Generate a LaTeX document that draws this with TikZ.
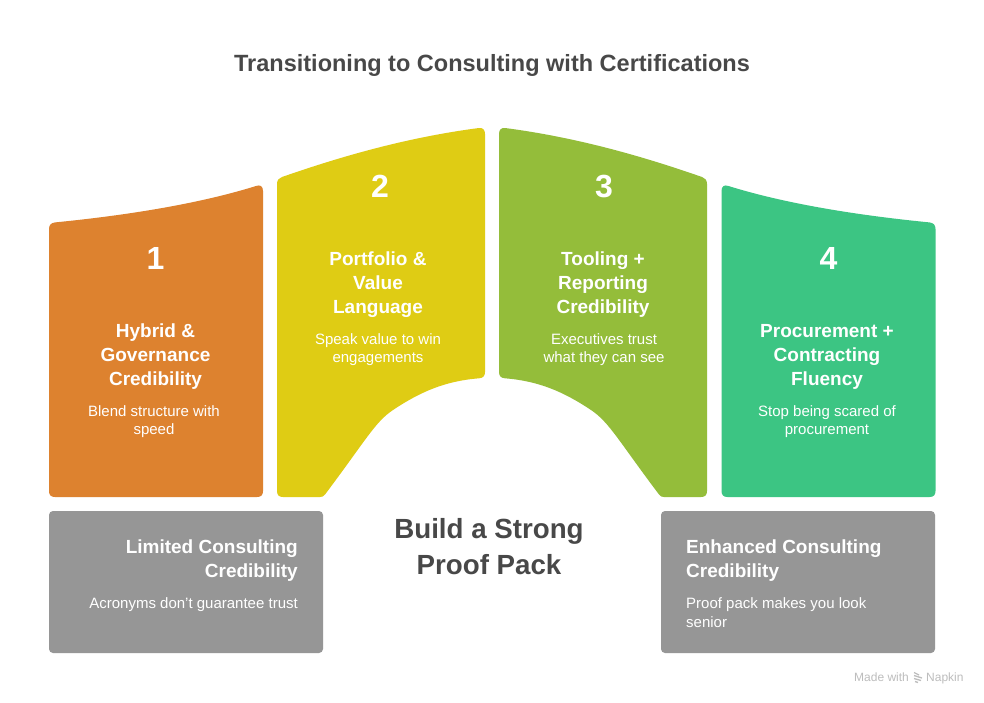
\documentclass[tikz,border=0pt]{standalone}
\usepackage{fontspec}
\setmainfont{Liberation Sans}
\definecolor{cOrange}{HTML}{DD822F}
\definecolor{cYellow}{HTML}{DFCC14}
\definecolor{cLime}{HTML}{94BD3A}
\definecolor{cTeal}{HTML}{3CC583}
\definecolor{cGray}{HTML}{969696}
\definecolor{cInk}{HTML}{484848}
\definecolor{cMark}{HTML}{BDBDBD}
\newcommand{\sidepath}{(49,229) .. controls (49,225) and (51,223) .. (55,222.4)
  .. controls (120,216) and (195,205) .. (256,186)
  .. controls (260,184.5) and (263,186) .. (263,191)
  -- (263,491) .. controls (263,495) and (261,497) .. (257,497)
  -- (55,497) .. controls (51,497) and (49,495) .. (49,491) -- cycle}
\newcommand{\innerpath}{(277,184) .. controls (277,180) and (279,178) .. (282,177)
  .. controls (345,155) and (410,137) .. (479,128)
  .. controls (483,127.6) and (485,130) .. (485,134)
  -- (485,372) .. controls (485,376) and (483,378) .. (479,378.3)
  .. controls (445,381) and (420,392) .. (393,410)
  .. controls (375,422) and (366,440) .. (325,494.5)
  .. controls (323.5,496.5) and (322,497) .. (320,497)
  -- (283,497) .. controls (279,497) and (277,495) .. (277,491) -- cycle}
\tikzset{
  wtext/.style={text=white,inner sep=0pt,align=center},
  numtext/.style={wtext,font=\fontsize{32}{36}\selectfont\bfseries},
  headtext/.style={wtext,font=\fontsize{19}{24}\selectfont\bfseries},
  desctext/.style={wtext,font=\fontsize{15}{18.3}\selectfont},
  marktext/.style={inner sep=0pt,text=cMark,font=\fontsize{12}{14}\selectfont,anchor=base west},
  graybox/.style={fill=cGray,rounded corners=4pt}
}
\begin{document}
\begin{tikzpicture}[x=1pt,y=-1pt]
\useasboundingbox (0,0) rectangle (984,702);
\fill[white] (0,0) rectangle (984,702);
\fill[cOrange] \sidepath;
\fill[cYellow] \innerpath;
\begin{scope}[xshift=984pt,xscale=-1]
\fill[cLime] \innerpath;
\end{scope}
\begin{scope}[xshift=984.5pt,xscale=-1]
\fill[cTeal] \sidepath;
\end{scope}
\fill[graybox] (49,511) rectangle (323,653);
\fill[graybox] (661,511) rectangle (935,653);
\node[inner sep=0pt,text=cInk,font=\fontsize{23.5}{28}\selectfont\bfseries] (title) at (492,65.5) {Transitioning to Consulting with Certifications};
\node[numtext] (n1) at (155.5,258.5) {1};
\node[numtext] (n2) at (380,186.5) {2};
\node[numtext] (n3) at (604,186.5) {3};
\node[numtext] (n4) at (828.5,258.5) {4};
\node[headtext] (h1) at (155.5,357) {Hybrid \&\\Governance\\Credibility};
\node[headtext] (h2) at (378,285) {Portfolio \&\\Value\\Language};
\node[headtext] (h3) at (603,285) {Tooling +\\Reporting\\Credibility};
\node[headtext] (h4) at (827,357) {Procurement +\\Contracting\\Fluency};
\node[desctext] (d1) at (154,421.5) {Blend structure with\\speed};
\node[desctext] (d2) at (378,349.5) {Speak value to win\\engagements};
\node[desctext] (d3) at (604,349.5) {Executives trust\\what they can see};
\node[desctext] (d4) at (827,421.5) {Stop being scared of\\procurement};
\node[inner sep=0pt,align=center,text=cInk,font=\fontsize{27.7}{36}\selectfont\bfseries] (center) at (489,547) {Build a Strong\\Proof Pack};
\node[headtext,align=right,anchor=east] (hl) at (298,560.5) {Limited Consulting\\Credibility};
\node[desctext,align=right,anchor=east] (dl) at (298,604.5) {Acronyms don't guarantee trust};
\node[headtext,align=left,anchor=west] (hr) at (686,560.5) {Enhanced Consulting\\Credibility};
\node[desctext,align=left,anchor=west] (dr) at (686,612.5) {Proof pack makes you look\\senior};
\node[marktext] (madewith) at (854,681) {Made with};
\node[marktext] (napkin) at (926,681) {Napkin};
\draw[cMark,line width=1.3pt] (914,672.5) -- (919,675) (914,675.5) -- (922,678) (914,678.5) -- (921,680.5) (915,681.5) -- (918,682.5);
\end{tikzpicture}
\end{document}
